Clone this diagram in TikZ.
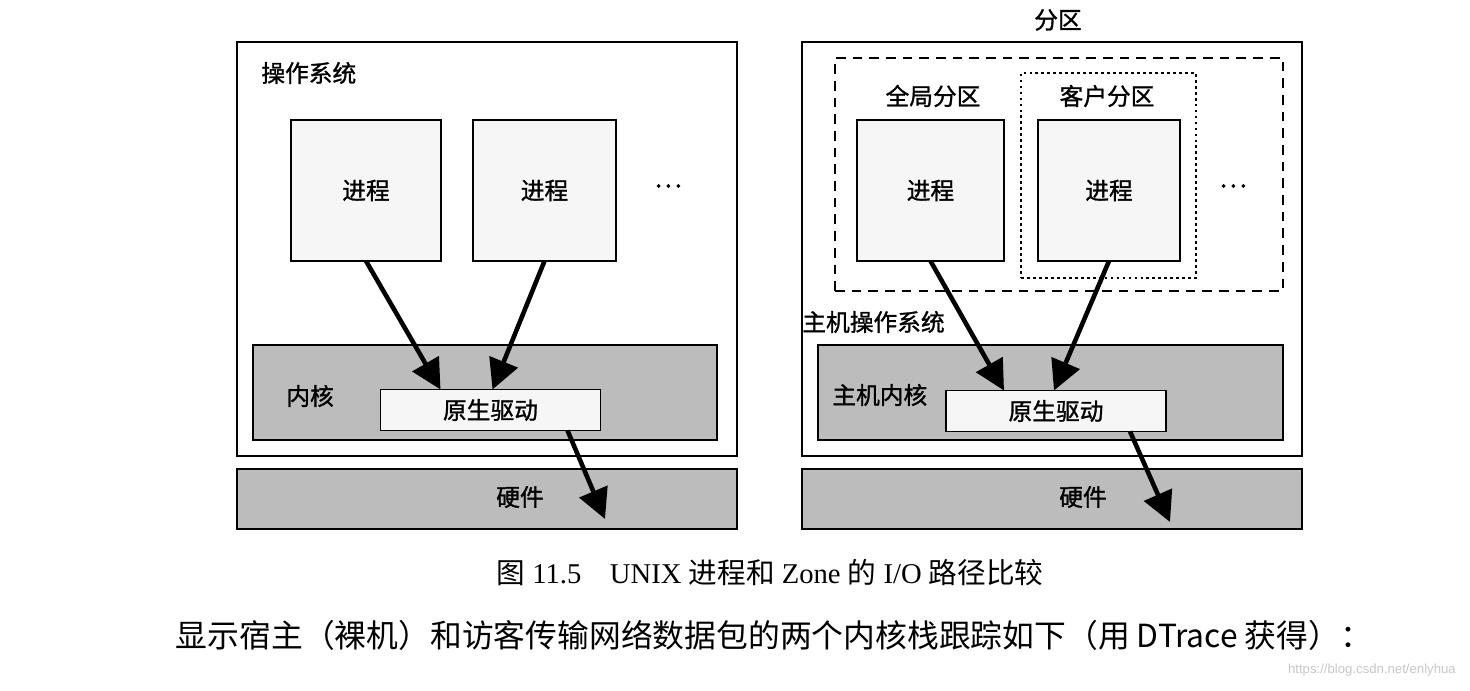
\documentclass[tikz,border=0pt]{standalone}
\usepackage{fontspec}
\setmainfont{Liberation Serif}
\newfontfamily\cjk{Noto Sans CJK SC}
\newfontfamily\cjkb[FakeBold=1.2]{Noto Sans CJK SC}
\usepackage{tikz}
\usetikzlibrary{arrows.meta,positioning,calc}
\definecolor{krngray}{RGB}{188,188,188}
\definecolor{procfill}{RGB}{246,246,246}
\definecolor{markgray}{RGB}{200,200,200}

\begin{document}
\begin{tikzpicture}[x=0.02cm, y=-0.02cm, font=\cjkb\fontsize{13.5}{16}\selectfont,
    box/.style={rectangle, draw, line width=1.1pt, inner sep=0pt, outer sep=0pt},
    proc/.style={box, fill=procfill, minimum height=2.82cm},
    krn/.style={box, fill=krngray, minimum width=9.3cm, minimum height=1.9cm},
    drv/.style={box, fill=procfill, minimum width=4.4cm, minimum height=0.82cm},
    hw/.style={box, fill=krngray, minimum width=10cm, minimum height=1.2cm},
    os/.style={box, minimum width=10cm, minimum height=8.28cm},
    lbl/.style={inner sep=0pt, anchor=west},
    arr/.style={-{Triangle[length=17pt,width=17pt]}, line width=2.6pt}]
\useasboundingbox[fill=white] (0,0) rectangle (1470,690);

% UNIX
\node[os] (os) at (487,249) {};
\node[lbl] (oslbl) at (261,73) {操作系统};
\node[proc, minimum width=3cm] (p1) at (366,190.5) {进程};
\node[proc, minimum width=2.86cm] (p2) at (544.5,190.5) {进程};
\node[font=\cjkb\fontsize{15}{16}\selectfont] (dots) at (668,186) {…};
\node[krn] (krn) at (485,392.5) {};
\node[lbl] (krnlbl) at (286,396) {内核};
\node[drv] (drv) at (490.5,410) {原生驱动};
\node[hw] (hw) at (487,499) {};
\node (hwlbl) at (520,497) {硬件};
\coordinate (hwend) at (605,519);
\draw[arr] (p1.south) -- ($(drv.north)+(-50,0)$);
\draw[arr] (p2.south) -- ($(drv.north)+(2,0)$);
\draw[arr] ($(drv.south)+(77,0)$) -- (hwend);

% Zones
\node (zlbl) at (1058,20) {分区};
\node[os] (os2) at (1052,249) {};
\node[box, dashed, dash pattern=on 5.5pt off 4pt, minimum width=8.96cm, minimum height=4.66cm] (zones) at (1059,174.5) {};
\node[box, dotted, dash pattern=on 1.6pt off 1.8pt, minimum width=3.5cm, minimum height=4.1cm] (ngz) at (1108.5,175.5) {};
\node (gzlbl) at (933,96) {全局分区};
\node (ngzlbl) at (1107,96) {客户分区};
\node[proc, minimum width=2.94cm] (pa) at (930.5,190.5) {进程};
\node[proc, minimum width=2.84cm] (pb) at (1109,190.5) {进程};
\node[font=\cjkb\fontsize{15}{16}\selectfont] (dots2) at (1233,186) {…};
\node[lbl] (os2lbl) at (802,322) {主机操作系统};
\node[krn] (krn2) at (1050.5,392.5) {};
\node[lbl] (krn2lbl) at (832,395) {主机内核};
\node[drv] (drv2) at (1056,411) {原生驱动};
\node[hw] (hw2) at (1052,499) {};
\node (hw2lbl) at (1083,497) {硬件};
\coordinate (hw2end) at (1170,522);
\draw[arr] (pa.south) -- ($(drv2.north)+(-52,0)$);
\draw[arr] (pb.south) -- ($(drv2.north)+(-2,0)$);
\draw[arr] ($(drv2.south)+(74,0)$) -- (hw2end);

% caption and text
\node[font=\rmfamily\fontsize{16.3}{19}\selectfont] (cap) at (770,573)
  {{\cjk 图} 11.5\quad UNIX {\cjk 进程和} Zone {\cjk 的} I/O {\cjk 路径比较}};
\node[font=\cjk\fontsize{18.1}{21}\selectfont] (txt) at (774,635)
  {显示宿主（裸机）和访客传输网络数据包的两个内核栈跟踪如下（用 DTrace 获得）：};
\node[font=\fontspec{Liberation Sans}\fontsize{7.5}{9}\selectfont, text=markgray, anchor=east] (mark) at (1462,670)
  {https://blog.csdn.net/enlyhua};
\end{tikzpicture}
\end{document}
